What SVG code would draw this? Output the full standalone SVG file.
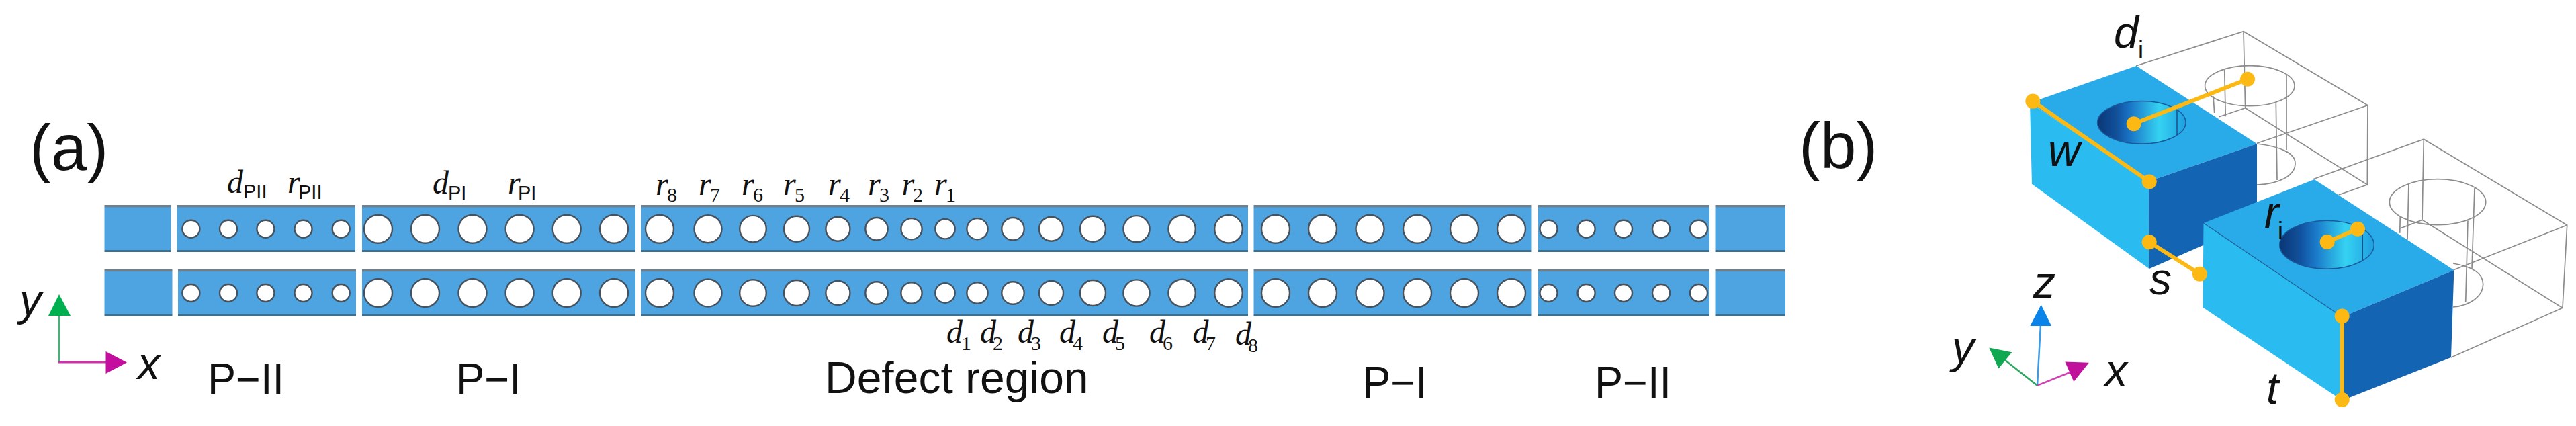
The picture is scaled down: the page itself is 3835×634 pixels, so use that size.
<svg xmlns="http://www.w3.org/2000/svg" width="3835" height="634" viewBox="0 0 3835 634">
<style>
.seg{fill:url(#segG)}
.h{fill:#fff;stroke:#47525c;stroke-width:2.4}
.m{font:italic 48px "Liberation Serif",serif;fill:#111}
.ss{font:30px "Liberation Serif",serif;font-style:normal}
.sp{font:29px "Liberation Sans",sans-serif;font-style:normal}
.big{font:66px "Liberation Sans",Arial,sans-serif;fill:#111}
.tag{font:96px "Liberation Sans",Arial,sans-serif;fill:#111}
.ax{font:italic 66px "Liberation Sans",Arial,sans-serif;fill:#111}
.si{font:36px "Liberation Sans",Arial,sans-serif;font-style:normal}
.w{fill:none;stroke:#8c8c8c;stroke-width:1.7}
.top{fill:#29abe9}.lf{fill:#2abbf1}.rt{fill:#1464b4}
.ed{stroke:#1c5f96;stroke-width:1.2;fill:none}
.cy{stroke:#1b4f86;stroke-width:1.5}
.dim{stroke:#fdb913;stroke-width:6;fill:none}
.dot{fill:#fdb913}
</style>
<defs>
<linearGradient id="segG" x1="0" x2="0" y1="0" y2="1">
<stop offset="0" stop-color="#6f7f8b"/><stop offset=".04" stop-color="#6f7f8b"/><stop offset=".06" stop-color="#4ea4e0"/><stop offset=".95" stop-color="#4ea4e0"/><stop offset=".965" stop-color="#3d6f8f"/><stop offset="1" stop-color="#3d6f8f"/>
</linearGradient>
<linearGradient id="holeG" x1="0" x2="1" y1="0" y2="0">
<stop offset="0" stop-color="#0b3674"/><stop offset=".22" stop-color="#10519f"/><stop offset=".38" stop-color="#1a78c8"/><stop offset=".7" stop-color="#35d2f2"/><stop offset="1" stop-color="#1f9ee0"/>
</linearGradient>
<g id="holes">
<circle class="h" cx="284.4" r="13"/><circle class="h" cx="340" r="13"/><circle class="h" cx="395.4" r="13"/><circle class="h" cx="451.5" r="13"/><circle class="h" cx="507.7" r="13"/>
<circle class="h" cx="563" r="21"/><circle class="h" cx="633" r="21"/><circle class="h" cx="703.5" r="21"/><circle class="h" cx="773.6" r="21"/><circle class="h" cx="843.7" r="21"/><circle class="h" cx="914" r="21"/>
<circle class="h" cx="982" r="21"/><circle class="h" cx="1054" r="20.5"/><circle class="h" cx="1121" r="19.8"/><circle class="h" cx="1186" r="19"/><circle class="h" cx="1247.4" r="18"/><circle class="h" cx="1305" r="16.7"/><circle class="h" cx="1357" r="15.6"/><circle class="h" cx="1407" r="14.7"/><circle class="h" cx="1455" r="15.6"/><circle class="h" cx="1508" r="16.7"/><circle class="h" cx="1565" r="18"/><circle class="h" cx="1627" r="19"/><circle class="h" cx="1692" r="19.6"/><circle class="h" cx="1759.6" r="20.2"/><circle class="h" cx="1829" r="20.8"/>
<circle class="h" cx="1899" r="21"/><circle class="h" cx="1969" r="21"/><circle class="h" cx="2039.5" r="21"/><circle class="h" cx="2110" r="21"/><circle class="h" cx="2180" r="21"/><circle class="h" cx="2250" r="21"/>
<circle class="h" cx="2305.5" r="13"/><circle class="h" cx="2361.6" r="13"/><circle class="h" cx="2417" r="13"/><circle class="h" cx="2473" r="13"/><circle class="h" cx="2529" r="13"/>
</g>
</defs>
<rect width="3835" height="634" fill="#fff"/>

<g id="panel-a-top-row">
<rect class="seg" x="155.5" y="305" width="99" height="70"/>
<rect class="seg" x="263.5" y="305" width="265.5" height="70"/>
<rect class="seg" x="539" y="305" width="407" height="70"/>
<rect class="seg" x="954.5" y="305" width="903.5" height="70"/>
<rect class="seg" x="1866.5" y="305" width="414" height="70"/>
<rect class="seg" x="2290" y="305" width="255" height="70"/>
<rect class="seg" x="2553.5" y="305" width="104.5" height="70"/>
<use href="#holes" y="340.7"/>
</g>
<g id="panel-a-bottom-row">
<rect class="seg" x="155.5" y="400.5" width="101" height="70"/>
<rect class="seg" x="265" y="400.5" width="265" height="70"/>
<rect class="seg" x="539" y="400.5" width="407" height="70"/>
<rect class="seg" x="954.5" y="400.5" width="903.5" height="70"/>
<rect class="seg" x="1866.5" y="400.5" width="414" height="70"/>
<rect class="seg" x="2290" y="400.5" width="255" height="70"/>
<rect class="seg" x="2553.5" y="400.5" width="104.5" height="70"/>
<use href="#holes" y="436"/>
</g>

<g id="panel-a-labels">
<text class="tag" x="44" y="253">(a)</text>
<text class="tag" x="2678" y="250">(b)</text>
<text class="m" x="338" y="287">d<tspan class="sp" x="362" y="295">PII</tspan></text>
<text class="m" x="428" y="287">r<tspan class="sp" x="444" y="296">PII</tspan></text>
<text class="m" x="644" y="288">d<tspan class="sp" x="667" y="297">PI</tspan></text>
<text class="m" x="756" y="288">r<tspan class="sp" x="771" y="297">PI</tspan></text>
<text class="m" x="976" y="290">r<tspan class="ss" x="993" y="300">8</tspan></text>
<text class="m" x="1040" y="290">r<tspan class="ss" x="1057" y="300">7</tspan></text>
<text class="m" x="1104" y="290">r<tspan class="ss" x="1121" y="300">6</tspan></text>
<text class="m" x="1166" y="290">r<tspan class="ss" x="1183" y="300">5</tspan></text>
<text class="m" x="1233" y="290">r<tspan class="ss" x="1250" y="300">4</tspan></text>
<text class="m" x="1292" y="290">r<tspan class="ss" x="1309" y="300">3</tspan></text>
<text class="m" x="1342.5" y="290">r<tspan class="ss" x="1359" y="300">2</tspan></text>
<text class="m" x="1391" y="290">r<tspan class="ss" x="1408" y="300">1</tspan></text>
<text class="m" x="1409" y="510">d<tspan class="ss" x="1431" y="521">1</tspan></text>
<text class="m" x="1459" y="510">d<tspan class="ss" x="1478" y="521">2</tspan></text>
<text class="m" x="1515" y="510">d<tspan class="ss" x="1535" y="521">3</tspan></text>
<text class="m" x="1577" y="510">d<tspan class="ss" x="1597" y="521">4</tspan></text>
<text class="m" x="1641" y="510">d<tspan class="ss" x="1660" y="521">5</tspan></text>
<text class="m" x="1711" y="510">d<tspan class="ss" x="1731" y="521">6</tspan></text>
<text class="m" x="1775.5" y="510">d<tspan class="ss" x="1795" y="521">7</tspan></text>
<text class="m" x="1839" y="513">d<tspan class="ss" x="1858" y="524">8</tspan></text>
<text class="big" x="309" y="586.5" textLength="114" lengthAdjust="spacingAndGlyphs">P−II</text>
<text class="big" x="679" y="586.5" textLength="97" lengthAdjust="spacingAndGlyphs">P−I</text>
<text class="big" x="1228" y="585">Defect region</text>
<text class="big" x="2028" y="591.5" textLength="97" lengthAdjust="spacingAndGlyphs">P−I</text>
<text class="big" x="2374" y="591.5" textLength="114" lengthAdjust="spacingAndGlyphs">P−II</text>
<text class="ax" x="29" y="469" font-size="62">y</text>
<text class="ax" x="205" y="564">x</text>
</g>

<g id="wireframes">
<path class="w" d="M3180 98L3340 46.7L3525 156.7L3524.3 275L3342.7 160.7M3340 46.7L3342.7 160.7L3303 174M3360 213.3L3525 156.7M3524.3 275L3481.7 290"/>
<ellipse class="w" cx="3349.3" cy="127.7" rx="66.7" ry="30"/>
<path class="w" d="M3311.7 104L3313.3 173.3M3295 143.3L3296.7 168M3404 110V223M3388.3 151.7L3390 268M3360 214C3395 218 3417 228 3417 243C3417 262 3392 274 3360 275"/>
<path class="w" d="M3443 267L3608.3 207.3L3821.7 335L3815 458.3L3606 327.3M3608.3 207.3L3606 327.3L3573 340M3652.7 401.7L3821.7 335M3815 458.3L3649 532"/>
<ellipse class="w" cx="3629" cy="300.7" rx="71.7" ry="34"/>
<path class="w" d="M3586 273.3L3584 356.7M3573.3 321.7L3572.7 346.7M3684 280L3680 400M3674 328.3L3670.7 450M3652 392C3682 397 3696.7 408 3696.7 423C3696.7 441 3677 455 3652 457"/>
</g>

<g id="block-1">
<polygon class="lf" points="3022,153 3199,270 3199.7,400 3025,274"/>
<polygon class="top" points="3180.5,98 3022,153 3199,270 3360,214"/>
<polygon class="rt" points="3199,270 3360,214 3360,330 3199.7,400"/>
<ellipse cx="3188.3" cy="182.3" rx="65.7" ry="31.7" fill="url(#holeG)" stroke="#1b5a98" stroke-width="1.5"/>
<path class="cy" d="M3151 158V205M3241 164V201"/>
</g>
<g id="block-2">
<polygon class="lf" points="3280.5,332 3487,471.7 3487,596 3279.4,457.5"/>
<polygon class="top" points="3445.5,267 3280.5,332 3487,471.7 3653.4,402"/>
<polygon class="rt" points="3487,471.7 3653.4,402 3649,532 3487,596"/>
<path class="ed" d="M3280.5 332L3487 471.7"/>
<ellipse cx="3464" cy="364.3" rx="70.3" ry="36" fill="url(#holeG)" stroke="#1b5a98" stroke-width="1.5"/>
<path class="cy" d="M3419.3 340V391.7M3517.3 346.7V387"/>
</g>

<g id="connectors">
<path class="dim" d="M3026.3 150.6L3199.7 270.4"/>
<path class="dim" d="M3176.7 184.3L3346 117.7"/>
<path class="dim" d="M3199.7 360.3L3274.9 407.7"/>
<path class="dim" d="M3464.7 360L3510 340.7"/>
<path class="dim" d="M3486.7 470.5V595"/>
<g class="dot">
<circle cx="3026.3" cy="150.6" r="11"/><circle cx="3199.7" cy="270.4" r="11"/>
<circle cx="3176.7" cy="184.3" r="11"/><circle cx="3346" cy="117.7" r="11"/>
<circle cx="3199.7" cy="360.3" r="11"/><circle cx="3274.9" cy="407.7" r="11"/>
<circle cx="3464.7" cy="360" r="11"/><circle cx="3510" cy="340.7" r="11"/>
<circle cx="3486.7" cy="470.5" r="11"/><circle cx="3486.7" cy="595" r="11"/>
</g>
<path d="M88 539V468" stroke="#3cb878" stroke-width="2.5" fill="none"/>
<path d="M87 539H160" stroke="#d030ac" stroke-width="3" fill="none"/>
<polygon points="88,438 72,470 105,470" fill="#00b050"/>
<polygon points="189,539.5 157.5,523 157.5,556" fill="#c40ea0"/>
<path d="M3033 573.7L3038 483" stroke="#3a9ce8" stroke-width="2.5" fill="none"/>
<path d="M3033 573.7L2985 536" stroke="#2aa860" stroke-width="2.5" fill="none"/>
<path d="M3033 573.7L3092 550" stroke="#d040b0" stroke-width="2.5" fill="none"/>
<polygon points="3038.7,453.4 3022.3,485 3054,485" fill="#0a84e8"/>
<polygon points="2961.3,517.4 2975.4,548.6 2995.2,524.3" fill="#10a850"/>
<polygon points="3109.9,539.7 3074.3,538.5 3087.3,568" fill="#c0109c"/>
</g>

<g id="panel-b-labels">
<text class="ax" x="3147" y="71">d<tspan class="si" x="3183" y="87">i</tspan></text>
<text class="ax" x="3049" y="247">w</text>
<text class="ax" x="3371" y="339">r<tspan class="si" x="3391" y="356">i</tspan></text>
<text class="ax" x="3200" y="438">s</text>
<text class="ax" x="3027" y="443">z</text>
<text class="ax" x="3134" y="574">x</text>
<text class="ax" x="3374" y="601">t</text>
<text class="ax" x="2906" y="540" font-size="62">y</text>
</g>
</svg>
